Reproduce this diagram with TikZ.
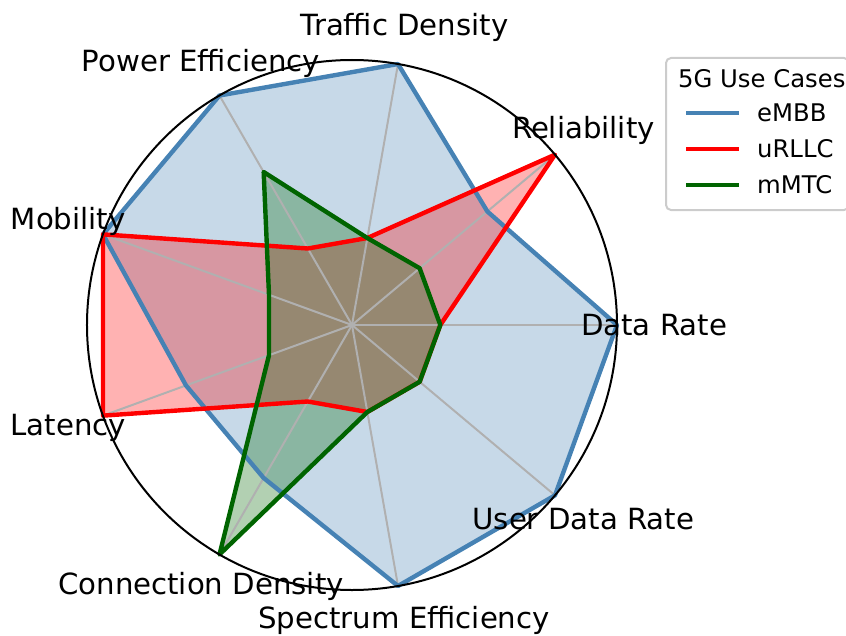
\documentclass[tikz,border=0pt]{standalone}
\usepackage{fontspec}
\setmainfont{DejaVu Sans}
\definecolor{embb}{HTML}{4682B4}
\definecolor{urllc}{HTML}{FF0000}
\definecolor{mmtc}{HTML}{006400}
\definecolor{gridgray}{HTML}{B0B0B0}
\definecolor{legedge}{HTML}{CCCCCC}
\begin{document}
\begin{tikzpicture}[x=1pt,y=1pt,
  areafill/.style={fill=#1, fill opacity=0.3, draw=none},
  serieslin/.style={draw=#1, line width=4.4pt, line join=round},
  gridline/.style={draw=gridgray, line width=2pt},
  axislab/.style={font=\fontsize{29.2}{35}\selectfont, inner sep=0pt, anchor=center},
  legtext/.style={font=\fontsize{24.3}{29}\selectfont, inner sep=0pt, anchor=west},
  legline/.style={draw=#1, line width=4.4pt}]
\useasboundingbox (-352,-310) rectangle (494,325);
\clip (-352,-310) rectangle (494,325);
\def\U{88.333}
% data points
\foreach \v [count=\i from 0] in {3,2,3,3,3,2,2,3,3}
  \coordinate (b\i) at (\i*40:\v*\U);
\foreach \v [count=\i from 0] in {1,3,1,1,3,3,1,1,1}
  \coordinate (r\i) at (\i*40:\v*\U);
\foreach \v [count=\i from 0] in {1,1,1,2,1,1,3,1,1}
  \coordinate (g\i) at (\i*40:\v*\U);
\coordinate (c) at (0,0);
\foreach \i in {0,...,8} \coordinate (o\i) at (\i*40:265);
% fills
\path[areafill=embb] (b0) -- (b1) -- (b2) -- (b3) -- (b4) -- (b5) -- (b6) -- (b7) -- (b8) -- cycle;
\path[areafill=urllc] (r0) -- (r1) -- (r2) -- (r3) -- (r4) -- (r5) -- (r6) -- (r7) -- (r8) -- cycle;
\path[areafill=mmtc] (g0) -- (g1) -- (g2) -- (g3) -- (g4) -- (g5) -- (g6) -- (g7) -- (g8) -- cycle;
% grid
\foreach \i in {0,...,8} \path[gridline] (c) -- (o\i);
% lines
\path[serieslin=embb] (b0) -- (b1) -- (b2) -- (b3) -- (b4) -- (b5) -- (b6) -- (b7) -- (b8) -- cycle;
\path[serieslin=urllc] (r0) -- (r1) -- (r2) -- (r3) -- (r4) -- (r5) -- (r6) -- (r7) -- (r8) -- cycle;
\path[serieslin=mmtc] (g0) -- (g1) -- (g2) -- (g3) -- (g4) -- (g5) -- (g6) -- (g7) -- (g8) -- cycle;
% outer circle
\draw[black, line width=2pt] (c) circle (265);
% axis labels
\node[axislab] (l0) at (0:302) {Data Rate};
\node[axislab] (l1) at (40:302) {Reliability};
\node[axislab] (l2) at (80:302) {Traffic Density};
\node[axislab] (l3) at (120:302) {Power Efficiency};
\node[axislab] (l4) at (160:302) {Mobility};
\node[axislab] (l5) at (200:302) {Latency};
\node[axislab] (l6) at (240:302) {Connection Density};
\node[axislab] (l7) at (280:300) {Spectrum Efficiency};
\node[axislab] (l8) at (320:302) {User Data Rate};
% legend
\draw[legedge, line width=2pt, fill=white, fill opacity=0.8, rounded corners=5pt] (314,267) rectangle (497,115);
\node[legtext] (lt) at (326,246) {5G Use Cases};
\coordinate (la1) at (334,212); \coordinate (lb1) at (387,212);
\coordinate (la2) at (334,176); \coordinate (lb2) at (387,176);
\coordinate (la3) at (334,140); \coordinate (lb3) at (387,140);
\path[legline=embb] (la1) -- (lb1);
\path[legline=urllc] (la2) -- (lb2);
\path[legline=mmtc] (la3) -- (lb3);
\node[legtext] (e1) at (405,212) {eMBB};
\node[legtext] (e2) at (405,176) {uRLLC};
\node[legtext] (e3) at (405,140) {mMTC};
\end{tikzpicture}
\end{document}
